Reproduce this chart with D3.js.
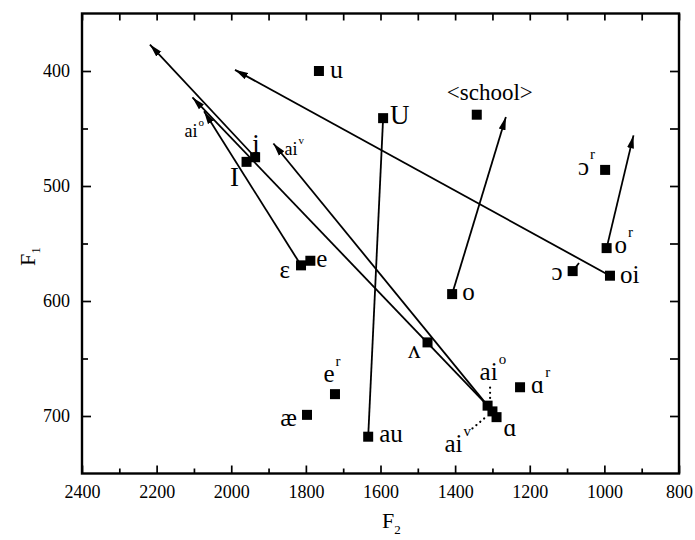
<!DOCTYPE html>
<html>
<head>
<meta charset="utf-8">
<script src="https://cdn.jsdelivr.net/npm/d3@7"></script>
<style>
  body { margin: 0; background: #fff; }
  svg { display: block; }
  text { font-family: "Liberation Serif", "Times New Roman", serif; fill: #000; }
</style>
</head>
<body>
<svg id="chart" width="695" height="540"></svg>
<script>
// vowel means (F2, F1 in Hz)
const vowelIds = ["u", "U", "school", "ɔr", "or", "oi", "ɔ", "o", "ʌ", "ɑr",
                  "aiO", "aiV", "ɑ", "au", "æ", "er", "e", "ε", "i", "I"];
const vowelF2 = [1765, 1593, 1342, 998, 994, 985, 1085, 1408, 1474, 1226,
                 1313, 1300, 1289, 1633, 1797, 1722, 1788, 1813, 1936, 1959];
const vowelF1 = [400, 441, 438, 486, 554, 578, 574, 594, 636, 675,
                 691, 696, 701, 718, 699, 681, 565, 569, 475, 479];
const labelMain = ["u", "U", "<school>", "ɔ", "o", "oi", "ɔ", "o", "ʌ", "ɑ",
                   "ai", "ai", "ɑ", "au", "æ", "e", "e", "ε", "i", "I"];
const labelSup = ["", "", "", "r", "r", "", "", "", "", "r",
                  "o", "v", "", "", "", "r", "", "", "", ""];

// glide trajectories: start vowel -> end point
const trajFrom = ["aiO", "aiO", "i", "ε", "oi", "o", "or", "au", "ɔ"];
const trajToF2 = [2104, 1887, 2218, 2073, 1990, 1264, 922, 1593, 1068];
const trajToF1 = [423, 463, 377, 435, 399, 440, 456, 441, 567];
const trajHead = [true, true, true, true, true, true, true, false, false];
const trajLabel = ["ai", "ai", "", "", "", "", "", "", ""];
const trajSup = ["o", "v", "", "", "", "", "", "", ""];

const xMajor = [2400, 2200, 2000, 1800, 1600, 1400, 1200, 1000, 800];
const xMinor = [2300, 2100, 1900, 1700, 1500, 1300, 1100, 900];
const yMajor = [400, 500, 600, 700];
const yMinor = [450, 550, 650];

// label placement (px from the square centre)
const labelPos = {
    "u": {dx: 11, dy: 7, anchor: "start", size: 26},
    "U": {dx: 7, dy: 6, anchor: "start", size: 27},
    "school": {dx: 13, dy: -15, anchor: "middle", size: 23},
    "ɔr": {dx: -10, dy: 5, anchor: "end"},
    "or": {dx: 8, dy: 5, anchor: "start"},
    "oi": {dx: 10, dy: 7, anchor: "start"},
    "ɔ": {dx: -10, dy: 9, anchor: "end"},
    "o": {dx: 10, dy: 6, anchor: "start"},
    "ʌ": {dx: -7, dy: 16, anchor: "end"},
    "ɑr": {dx: 11, dy: 6, anchor: "start"},
    "aiO": {dx: -8, dy: -26, anchor: "start"},
    "aiV": {dx: -48, dy: 41, anchor: "start"},
    "ɑ": {dx: 7, dy: 19, anchor: "start"},
    "au": {dx: 11, dy: 5, anchor: "start"},
    "æ": {dx: -10, dy: 11, anchor: "end"},
    "er": {dx: -3, dy: -12, anchor: "middle"},
    "e": {dx: 6, dy: 6, anchor: "start"},
    "ε": {dx: -11, dy: 13, anchor: "end"},
    "i": {dx: 1, dy: -4, anchor: "middle", size: 27},
    "I": {dx: -12, dy: 24, anchor: "middle", size: 27}
};
const trajLabelPos = [{dx: -8, dy: 40}, {dx: 11, dy: 12}];
// dotted leaders between the ai labels and the cluster
const leaders = {
    "aiO": [[2.5, -18], [2.5, -6]],
    "aiV": [[-20, 17], [-7, 6]]
};

const svg = d3.select("#chart");
const margin = {left: 82, right: 16, top: 13.5, bottom: 66.5};
const W = 695, H = 540;
const x = d3.scaleLinear().domain([2400, 800]).range([margin.left, W - margin.right]);
const y = d3.scaleLinear().domain([350, 750]).range([margin.top, H - margin.bottom]);

const byId = {};
vowelIds.forEach((id, i) => {
    byId[id] = {id, f2: vowelF2[i], f1: vowelF1[i], main: labelMain[i], sup: labelSup[i]};
});
const vowels = vowelIds.map(id => byId[id]);

svg.append("defs").append("marker")
    .attr("id", "head")
    .attr("viewBox", "0 -4 14 8")
    .attr("refX", 13)
    .attr("refY", 0)
    .attr("markerUnits", "userSpaceOnUse")
    .attr("markerWidth", 14)
    .attr("markerHeight", 8)
    .attr("orient", "auto")
    .append("path")
    .attr("d", "M0,-3.5L13,0L0,3.5Z")
    .attr("fill", "#000");

// axes: ticks point inward on all four sides
function styleAxis(g) {
    g.select(".domain").remove();
    g.selectAll(".tick line").attr("stroke", "#000").attr("stroke-width", 1.7);
    g.selectAll(".tick text").style("font-size", "18px").attr("fill", "#000");
}
const x0 = y.range()[1], x1 = y.range()[0];
svg.append("g").attr("transform", `translate(0,${x0})`)
    .call(d3.axisBottom(x).tickValues(xMajor).tickSize(-8).tickPadding(12).tickFormat(d3.format("d")))
    .call(styleAxis);
svg.append("g").attr("transform", `translate(0,${x0})`)
    .call(d3.axisBottom(x).tickValues(xMinor).tickSize(-5).tickFormat(""))
    .call(styleAxis);
svg.append("g").attr("transform", `translate(0,${x1})`)
    .call(d3.axisTop(x).tickValues(xMajor.concat(xMinor)).tickSize(-7).tickFormat(""))
    .call(styleAxis);
svg.append("g").attr("transform", `translate(${x.range()[0]},0)`)
    .call(d3.axisLeft(y).tickValues(yMajor).tickSize(-9).tickPadding(12))
    .call(styleAxis);
svg.append("g").attr("transform", `translate(${x.range()[0]},0)`)
    .call(d3.axisLeft(y).tickValues(yMinor).tickSize(-6).tickFormat(""))
    .call(styleAxis);
svg.append("g").attr("transform", `translate(${x.range()[1]},0)`)
    .call(d3.axisRight(y).tickValues(yMajor.concat(yMinor)).tickSize(-9).tickFormat(""))
    .call(styleAxis);

svg.append("rect")
    .attr("x", x.range()[0]).attr("y", y.range()[0])
    .attr("width", x.range()[1] - x.range()[0])
    .attr("height", y.range()[1] - y.range()[0])
    .attr("fill", "none").attr("stroke", "#000").attr("stroke-width", 2.4);

// axis titles
const f1Title = svg.append("text")
    .attr("transform", "translate(35,266) rotate(-90)")
    .style("font-size", "22px");
f1Title.append("tspan").text("F");
f1Title.append("tspan").attr("dy", 5).style("font-size", "13px").text("1");

const f2Title = svg.append("text")
    .attr("x", 382).attr("y", 528)
    .style("font-size", "22px");
f2Title.append("tspan").text("F");
f2Title.append("tspan").attr("dx", 0).attr("dy", 6).style("font-size", "13px").text("2");

// trajectories
const trajs = trajFrom.map((from, i) => ({
    from: byId[from], f2: trajToF2[i], f1: trajToF1[i], head: trajHead[i],
    label: trajLabel[i], sup: trajSup[i], idx: i
}));
svg.append("g").selectAll("line")
    .data(trajs)
    .join("line")
    .attr("x1", d => x(d.from.f2))
    .attr("y1", d => y(d.from.f1))
    .attr("x2", d => x(d.f2))
    .attr("y2", d => y(d.f1))
    .attr("stroke", "#000")
    .attr("stroke-width", 1.8)
    .attr("marker-end", d => d.head ? "url(#head)" : null);

// dotted leaders
svg.append("g").selectAll("line")
    .data(Object.keys(leaders))
    .join("line")
    .attr("x1", id => x(byId[id].f2) + leaders[id][0][0])
    .attr("y1", id => y(byId[id].f1) + leaders[id][0][1])
    .attr("x2", id => x(byId[id].f2) + leaders[id][1][0])
    .attr("y2", id => y(byId[id].f1) + leaders[id][1][1])
    .attr("stroke", "#000")
    .attr("stroke-width", 2.2)
    .attr("stroke-linecap", "round")
    .attr("stroke-dasharray", "0.1,5");

// vowel squares
const sq = 10;
svg.append("g").selectAll("rect")
    .data(vowels)
    .join("rect")
    .attr("x", d => x(d.f2) - sq / 2)
    .attr("y", d => y(d.f1) - sq / 2)
    .attr("width", sq)
    .attr("height", sq)
    .attr("fill", "#000");

// vowel labels
const labels = svg.append("g").selectAll("text")
    .data(vowels.filter(d => d.main))
    .join("text")
    .attr("x", d => x(d.f2) + labelPos[d.id].dx)
    .attr("y", d => y(d.f1) + labelPos[d.id].dy)
    .attr("text-anchor", d => labelPos[d.id].anchor)
    .style("font-size", d => (labelPos[d.id].size || 25) + "px");
labels.append("tspan").text(d => d.main);
labels.filter(d => d.sup).append("tspan")
    .attr("dy", -16)
    .attr("dx", 1)
    .style("font-size", "15px")
    .text(d => d.sup);

// small labels at the ai arrow heads
const tl = svg.append("g").selectAll("text")
    .data(trajs.filter(d => d.label))
    .join("text")
    .attr("x", d => x(d.f2) + trajLabelPos[d.idx].dx)
    .attr("y", d => y(d.f1) + trajLabelPos[d.idx].dy)
    .style("font-size", "18px");
tl.append("tspan").text(d => d.label);
tl.append("tspan").attr("dy", -11).attr("dx", 1).style("font-size", "11px").text(d => d.sup);
</script>
</body>
</html>
